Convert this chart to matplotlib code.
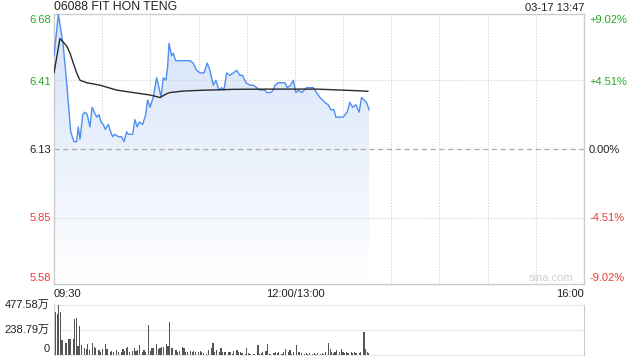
import numpy as np
import matplotlib
matplotlib.use("Agg")
import matplotlib.pyplot as plt
from matplotlib.patches import Polygon

plt.rcParams['font.family'] = ['Liberation Sans', 'Noto Sans CJK SC', 'DejaVu Sans']

# minutes since 09:30 (trading minutes, lunch break removed)
price_t = [0, 2.7, 5.6, 7.9, 10.4, 12.4, 14.1, 15.1, 16.2, 17.9, 19.3, 20.7, 22.4, 23.7,
           25.1, 26.6, 28.0, 29.3, 30.7, 31.9, 33.8, 35.3, 36.5, 37.9, 40.0, 42.1, 43.6,
           45.2, 46.2, 49.0, 50.4, 51.8, 53.1, 55.2, 57.1, 58.3, 59.8, 61.8, 63.9, 65.4,
           66.6, 68.0, 69.7, 70.8, 71.6, 73.3, 74.3, 75.7, 77.4, 79.5, 84.6, 86.7, 88.8,
           90.9, 93.4, 95.4, 97.1, 99.2, 100.8, 102.7, 104.4, 105.8, 107.5, 109.5, 111.6,
           113.7, 115.8, 117.4, 119.5, 122.0, 124.0, 126.2, 128.2, 131.3, 132.4, 134.9,
           136.5, 137.6, 139.6, 142.3, 143.8, 145.2, 147.3, 149.0, 150.6, 152.1, 154.2,
           157.3, 161.4, 163.5, 165.6, 168.7, 170.7, 172.4, 174.3, 175.5, 177.6, 180.1,
           182.5, 184.2, 185.9, 188.0, 190.0, 191.5, 193.0, 194.6, 196.2]
price = [6.51, 6.68, 6.56, 6.40, 6.20, 6.16, 6.16, 6.22, 6.17, 6.27, 6.28, 6.27, 6.22, 6.30,
         6.28, 6.26, 6.27, 6.24, 6.23, 6.21, 6.23, 6.20, 6.18, 6.19, 6.18, 6.18, 6.16,
         6.20, 6.19, 6.19, 6.25, 6.22, 6.24, 6.23, 6.27, 6.33, 6.30, 6.34, 6.42, 6.38,
         6.34, 6.42, 6.41, 6.47, 6.56, 6.51, 6.52, 6.49, 6.49, 6.49, 6.49, 6.48, 6.45,
         6.44, 6.44, 6.48, 6.45, 6.39, 6.41, 6.37, 6.38, 6.37, 6.44, 6.43, 6.44,
         6.45, 6.43, 6.43, 6.40, 6.39, 6.39, 6.38, 6.37, 6.37, 6.36, 6.36,
         6.37, 6.39, 6.40, 6.40, 6.40, 6.38, 6.39, 6.41, 6.36, 6.37, 6.36,
         6.38, 6.38, 6.36, 6.34, 6.32, 6.31, 6.29, 6.29, 6.26, 6.26, 6.26,
         6.28, 6.32, 6.30, 6.31, 6.28, 6.34, 6.33, 6.32, 6.29]

avg_t = [0, 3.7, 7.9, 10.0, 12.0, 14.1, 16.2, 20.4, 28.6, 39.0, 49.2, 59.8, 66.0, 70.1,
         72.2, 80.3, 90.9, 111.4, 132.0, 153.1, 163.5, 190.5, 195.4]
avg_price = [6.44, 6.58, 6.55, 6.52, 6.48, 6.44, 6.41, 6.40, 6.39, 6.37, 6.36, 6.35, 6.34,
             6.355, 6.36, 6.366, 6.369, 6.373, 6.374, 6.374, 6.374, 6.367, 6.365]

vol_t = [1, 2, 3, 4, 5, 7, 8, 9, 10, 12, 13, 14, 15, 16, 17, 19, 20, 21, 22, 24, 25, 26, 28,
         29, 30, 32, 33, 35, 36, 37, 39, 40, 42, 43, 44, 45, 46, 47, 49, 50, 51, 52, 53, 55,
         56, 57, 59, 60, 61, 62, 64, 65, 66, 67, 68, 70, 71, 72, 73, 74, 76, 77, 78, 80, 81,
         82, 83, 85, 86, 87, 88, 90, 91, 92, 93, 95, 96,
         98, 99, 100, 101, 103, 104, 105, 106, 107, 109, 110, 111, 112, 114, 115, 116, 117,
         119, 120, 121, 122, 124, 125, 127, 128, 129, 130, 132, 133, 134, 135, 137, 138, 139,
         140, 142, 143, 144, 146, 147, 148, 149, 151, 152, 153, 154, 156, 157, 158, 159, 161,
         162, 163, 164, 166, 167, 168, 169, 171, 172, 173, 174, 175, 176, 178, 179, 180, 181,
         182, 183, 185, 186, 187, 188, 190, 191, 193, 194, 195, 196]
vol = [411, 389, 477, 411, 146, 115, 115, 153, 153, 153, 344, 356, 89, 274, 95, 70, 57, 102,
       48, 115, 80, 64, 48, 32, 57, 108, 57, 25, 38, 32, 48, 32, 25, 57, 38, 70, 80, 25, 38,
       64, 38, 48, 95, 25, 45, 25, 287, 38, 64, 70, 108, 57, 70, 80, 76, 108, 89, 318, 64, 70,
       45, 32, 38, 76, 64, 32, 25, 38, 25, 38, 32, 25, 38, 25, 19, 13, 51,
       70, 111, 32, 45, 25, 64, 25, 25, 25, 25, 32, 13, 38, 45, 25, 32, 19, 13, 64, 19, 13,
       13, 13, 95, 13, 19, 25, 38, 102, 13, 13, 19, 25, 19, 32, 13, 25, 57, 25, 51, 13, 25,
       95, 32, 25, 19, 13, 19, 13, 19, 13, 19, 13, 19, 13, 19, 13, 25, 115, 57, 32, 19, 25,
       45, 25, 57, 25, 19, 25, 19, 32, 19, 25, 19, 19, 25, 220, 57, 25, 19]

prev_close = 6.13
y_ticks = [6.68, 6.41, 6.13, 5.85, 5.58]
pct_labels = ['+9.02%', '+4.51%', '0.00%', '-4.51%', '-9.02%']
x_labels = ['09:30', '12:00/13:00', '16:00']

green = '#22aa22'
red = '#f03a3a'
dark = '#222222'
tick_colors = [green, green, dark, red, red]

W, H = 640, 360
fig = plt.figure(figsize=(6.4, 3.6), dpi=100)
ax = fig.add_axes([54 / W, 76 / H, 530 / W, 270 / H])
axv = fig.add_axes([54 / W, 5 / H, 530 / W, 50 / H])


def ftext(px, py, s, **kw):
    # place text by pixel position from top-left
    fig.text(px / W, 1 - py / H, s, **kw)


t_end = 330
ax.set_xlim(0, t_end)
ax.set_ylim(5.58, 6.68)

# gradient fill under the price line
verts = [(price_t[0], 5.58)] + list(zip(price_t, price)) + [(price_t[-1], 5.58)]
poly = Polygon(verts, closed=True, facecolor='none', edgecolor='none')
ax.add_patch(poly)
grad = np.linspace(1, 0, 256).reshape(-1, 1)
cmap = matplotlib.colors.LinearSegmentedColormap.from_list('bl', ['#ffffff', '#d4e2f8'])
im = ax.imshow(grad, cmap=cmap, aspect='auto', extent=[0, t_end, 5.58, 6.68],
               origin='upper', zorder=1, vmin=0, vmax=1)
im.set_clip_path(poly)

ax.plot(price_t, price, color='#4f8ff0', lw=1.0, zorder=3)
ax.plot(avg_t, avg_price, color='#2a2a2a', lw=1.0, zorder=4)

# grid
for v in np.arange(30, t_end, 30):
    ax.axvline(v, color='#d0d0d0', lw=0.8, ls=(0, (1, 1.5)), zorder=0.5)
for yv in y_ticks[1:-1]:
    if yv == prev_close:
        ax.axhline(yv, color='#aaaaaa', lw=0.9, ls=(0, (4, 3)), zorder=2)
    else:
        ax.axhline(yv, color='#d0d0d0', lw=0.8, ls=(0, (1, 1.5)), zorder=2)

for sp in ax.spines.values():
    sp.set_color('#cccccc')
    sp.set_linewidth(1)
ax.set_xticks([])
ax.set_yticks([])

# y labels, both sides; the outer ones sit just inside the frame
label_py = [20, 81.7, 149.7, 217.7, 278]
for py, yv, lab, c in zip(label_py, y_ticks, pct_labels, tick_colors):
    ftext(51, py, f'{yv:.2f}', color=c, fontsize=8, ha='right', va='center')
    ftext(589, py, lab, color=c, fontsize=8, ha='left', va='center')

ftext(54, 7, '06088 FIT HON TENG', fontsize=8.8, color=dark, ha='left', va='center')
ftext(584, 8, '03-17 13:47', fontsize=8, color=dark, ha='right', va='center')
ftext(54, 294, x_labels[0], fontsize=8, color=dark, ha='left', va='center')
ftext(295, 294, x_labels[1], fontsize=8, color=dark, ha='center', va='center')
ftext(584, 294, x_labels[2], fontsize=8, color=dark, ha='right', va='center')
ftext(573, 278, 'sina.com', fontsize=8, color='#d0d0d0', ha='right', va='center')

# volume panel
vmax = 477.58
axv.set_xlim(0, t_end)
axv.set_ylim(0, vmax)
axv.bar(vol_t, vol, width=0.75, color='#555555', zorder=3)
for yv in [vmax, vmax / 2, 0]:
    axv.axhline(yv, color='#cccccc', lw=0.8, ls=(0, (1, 1.5)), zorder=1, clip_on=False)
for s in ['top', 'bottom']:
    axv.spines[s].set_visible(False)
for s in ['left', 'right']:
    axv.spines[s].set_color('#cccccc')
axv.set_xticks([])
axv.set_yticks([])
ftext(50, 305, '477.58万', fontsize=8, color=dark, ha='right', va='center')
ftext(50, 330, '238.79万', fontsize=8, color=dark, ha='right', va='center')
ftext(50, 349, '0', fontsize=8, color=dark, ha='right', va='center')

fig.savefig('out.png', dpi=100)
